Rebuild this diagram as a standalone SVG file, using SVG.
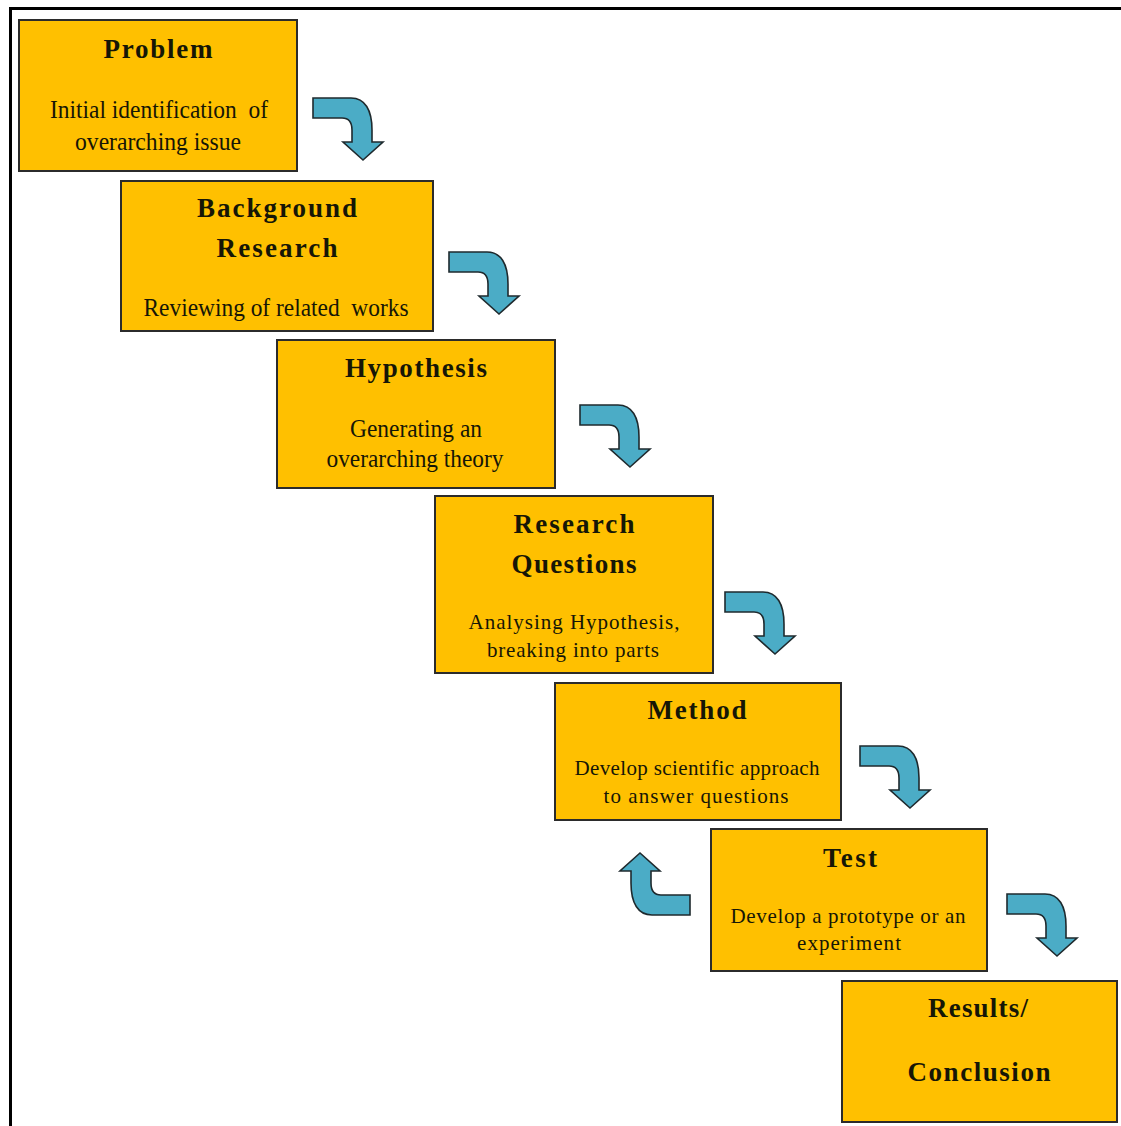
<svg xmlns="http://www.w3.org/2000/svg" width="1121" height="1126" viewBox="0 0 1121 1126">
  <style>
    .box { fill: #FFC000; stroke: #2b2b2b; stroke-width: 2; }
    text { font-family: "Liberation Serif", "Times New Roman", "DejaVu Serif", serif; fill: #161606; text-anchor: middle; }
    .title { font-size: 27px; font-weight: bold; }
    .tight { font-size: 25px; }
    .wide { font-size: 21px; }
    .arrow { fill: #4BACC6; stroke: #1f2a2e; stroke-width: 1.6; stroke-linejoin: miter; }
    .frame { fill: none; stroke: #000; stroke-width: 3; }
  </style>
  <defs>
    <!-- bent arrow: runs right, turns down, ends in a head pointing down -->
    <path id="bent" d="M0,0 H38 C52,0 59,12 59,32 V44 H70 L50,62 L30,44 H39 V32 C39,25 36,20 29,20 H0 Z"/>
  </defs>

  <rect width="1121" height="1126" fill="#fff"/>
  <path class="frame" d="M10.5,1126 V8.5 H1121"/>

  <g id="connectors">
    <use href="#bent" class="arrow" transform="translate(313,98)"/>
    <use href="#bent" class="arrow" transform="translate(449,252)"/>
    <use href="#bent" class="arrow" transform="translate(580,405)"/>
    <use href="#bent" class="arrow" transform="translate(725,592)"/>
    <use href="#bent" class="arrow" transform="translate(860,746)"/>
    <use href="#bent" class="arrow" transform="translate(1007,894)"/>
    <!-- feedback arrow from Test back up towards Method -->
    <use href="#bent" class="arrow" transform="translate(690,915) rotate(180)"/>
  </g>

  <g id="problem">
    <rect class="box" x="19" y="20" width="278" height="151"/>
    <text class="title" x="158" y="58" textLength="109">Problem</text>
    <text class="tight" x="159" y="118" textLength="218" lengthAdjust="spacingAndGlyphs" xml:space="preserve">Initial identification  of</text>
    <text class="tight" x="158" y="150" textLength="166" lengthAdjust="spacingAndGlyphs">overarching issue</text>
  </g>

  <g id="background-research">
    <rect class="box" x="121" y="181" width="312" height="150"/>
    <text class="title" x="277" y="217" textLength="160">Background</text>
    <text class="title" x="277" y="257" textLength="121">Research</text>
    <text class="tight" x="276" y="316" textLength="265" lengthAdjust="spacingAndGlyphs" xml:space="preserve">Reviewing of related  works</text>
  </g>

  <g id="hypothesis">
    <rect class="box" x="277" y="340" width="278" height="148"/>
    <text class="title" x="416" y="377" textLength="142">Hypothesis</text>
    <text class="tight" x="416" y="437" textLength="132" lengthAdjust="spacingAndGlyphs">Generating an</text>
    <text class="tight" x="415" y="467" textLength="177" lengthAdjust="spacingAndGlyphs">overarching theory</text>
  </g>

  <g id="research-questions">
    <rect class="box" x="435" y="496" width="278" height="177"/>
    <text class="title" x="574" y="533" textLength="121">Research</text>
    <text class="title" x="574" y="573" textLength="125">Questions</text>
    <text class="wide" x="574" y="629" textLength="211">Analysing Hypothesis,</text>
    <text class="wide" x="573" y="657" textLength="172">breaking into parts</text>
  </g>

  <g id="method">
    <rect class="box" x="555" y="683" width="286" height="137"/>
    <text class="title" x="697" y="719" textLength="99">Method</text>
    <text class="wide" x="697" y="775" textLength="245">Develop scientific approach</text>
    <text class="wide" x="696" y="803" textLength="185">to answer questions</text>
  </g>

  <g id="test">
    <rect class="box" x="711" y="829" width="276" height="142"/>
    <text class="title" x="850" y="867" textLength="54">Test</text>
    <text class="wide" x="848" y="923" textLength="235">Develop a prototype or an</text>
    <text class="wide" x="849" y="950" textLength="104">experiment</text>
  </g>

  <g id="results-conclusion">
    <rect class="box" x="842" y="981" width="275" height="141"/>
    <text class="title" x="978" y="1017" textLength="100">Results/</text>
    <text class="title" x="979" y="1081" textLength="143">Conclusion</text>
  </g>
</svg>
